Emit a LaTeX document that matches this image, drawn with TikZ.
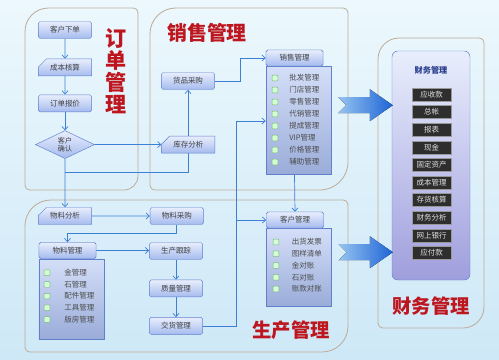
\documentclass[tikz,border=0pt]{standalone}
\usepackage{fontspec}
\newfontfamily\cjk{Noto Sans CJK SC}
\usetikzlibrary{positioning, arrows.meta, shapes.geometric, shapes.misc, calc, backgrounds}
\definecolor{flowblue}{RGB}{60,128,214}
\definecolor{boxline}{RGB}{96,128,206}
\definecolor{boxtop}{RGB}{232,238,252}
\definecolor{boxbot}{RGB}{165,186,238}
\definecolor{titlered}{RGB}{190,22,30}
\definecolor{panelline}{RGB}{190,172,152}
\definecolor{bgtop}{RGB}{236,248,253}
\definecolor{bgbot}{RGB}{206,232,247}
\definecolor{arrowlight}{RGB}{150,196,240}
\definecolor{arrowdark}{RGB}{30,100,214}
\definecolor{finnavy}{RGB}{40,60,140}

\begin{document}
\begin{tikzpicture}[
  x=0.03cm, y=-0.03cm,
  >={Straight Barb[length=1mm, width=1.8mm]},
  font=\cjk\fontsize{6.4}{7.5}\selectfont,
  box/.style={draw=boxline, rounded corners=1.5pt, top color=boxtop, bottom color=boxbot,
    minimum width=1.6cm, minimum height=0.51cm, inner sep=1pt, text=black!75},
  cutbox/.style={box, chamfered rectangle, chamfered rectangle corners=north west,
    chamfered rectangle xsep=0.2cm, rounded corners=0pt},
  dia/.style={diamond, draw=boxline, top color=boxtop, bottom color=boxbot, aspect=2.1,
    minimum width=1.77cm, minimum height=0.84cm, inner sep=0pt, align=center,
    font=\cjk\fontsize{6}{6.6}\selectfont, text=black!75},
  hdr/.style={box, minimum width=1.71cm, minimum height=0.48cm},
  lbody/.style={chamfered rectangle, chamfered rectangle corners=north east,
    chamfered rectangle xsep=0.16cm, draw=boxline, top color=boxtop!70!boxbot,
    bottom color=boxbot!90!black!95, minimum width=1.95cm, inner sep=0pt},
  ico/.style={draw=green!40!black!50, fill=green!18, minimum size=0.17cm, inner sep=0pt,
    rounded corners=0.5pt},
  itm/.style={inner sep=0pt, text=black!70},
  finbox/.style={draw=boxline, rounded corners=5pt, top color=boxtop, bottom color=boxbot!85!violet,
    minimum width=2.34cm, minimum height=6.87cm},
  fitem/.style={fill=black!82, draw=black!40, minimum width=1.17cm, minimum height=0.39cm,
    inner sep=0pt, text=white!88!black},
  ttl/.style={text=titlered, inner sep=0pt, font=\cjk\bfseries\fontsize{17}{18}\selectfont},
  panel/.style={draw=panelline, line width=0.7pt},
  flow/.style={draw=flowblue, line width=0.6pt, ->}
]
  \useasboundingbox (0,0) rectangle (499,359);

  % Order management
  \node[box] (kx) at (65,30) {客户下单};
  \node[cutbox, below=0.6cm of kx] (cb) {成本核算};
  \node[box, below=0.55cm of cb] (bj) {订单报价};
  \node[dia, below=0.55cm of bj] (qr) {客户\\确认};
  \node[ttl, align=center, font=\cjk\bfseries\fontsize{18}{18.7}\selectfont] (t1) at (116,71) {订\\单\\管\\理};

  % Sales management
  \node[ttl] (t2) at (207,33) {销售管理};
  \node[box] (hp) at (188,81) {货品采购};
  \node[cutbox, right=2.0cm of qr] (kc) {库存分析};
  \node[hdr] (sh) at (294.5,58) {销售管理};
  \node[lbody, minimum height=3.24cm, below=0pt of sh.south west, anchor=north west] (sb) {};
  \node[hdr] at (sh) {销售管理};
  \foreach \t [count=\i] in {批发管理,门店管理,零售管理,代销管理,提成管理,VIP管理,价格管理,辅助管理} {
    \node[ico] (si\i) at (275,{66+12*\i}) {};
    \node[itm, right=0.33cm of si\i] (st\i) {\t};
  }

  % Production management
  \node[cutbox] (wf) at (65,216) {物料分析};
  \node[box, right=1.74cm of wf] (wc) {物料采购};
  \node[hdr] (wg) at (67.5,250.5) {物料管理};
  \node[lbody, minimum height=2.4cm, below=0pt of wg.south west, anchor=north west] (wb) {};
  \node[hdr] at (wg) {物料管理};
  \foreach \t [count=\i] in {金管理,石管理,配件管理,工具管理,版房管理} {
    \node[ico] (wi\i) at (47,{261+11.7*\i}) {};
    \node[itm, right=0.42cm of wi\i] (wt\i) {\t};
  }
  \node[box] (sg) at (176,251) {生产跟踪};
  \node[box, below=0.6cm of sg] (zl) {质量管理};
  \node[box, below=0.6cm of zl] (jh) {交货管理};
  \node[hdr] (kh) at (295,220) {客户管理};
  \node[lbody, minimum height=2.33cm, below=0pt of kh.south west, anchor=north west] (kb) {};
  \node[hdr] at (kh) {客户管理};
  \foreach \t [count=\i] in {出货发票,图样清单,金对账,石对账,账款对账} {
    \node[ico] (ki\i) at (276,{230.25+11.75*\i}) {};
    \node[itm, right=0.38cm of ki\i] (kt\i) {\t};
  }
  \node[ttl, font=\cjk\bfseries\fontsize{16.5}{18}\selectfont] (t3) at (291,330) {生产管理};

  % Finance management
  \node[finbox] (fin) at (431,165.5) {};
  \node[font=\cjk\bfseries\fontsize{7}{8}\selectfont, text=finnavy] (fint) at (431,70) {财务管理};
  \foreach \t [count=\i] in {应收款,总帐,报表,现金,固定资产,成本管理,存货核算,财务分析,网上银行,应付款}
    \node[fitem] (f\i) at (431.5,{76.9+17.6*\i}) {\t};
  \node[ttl, font=\cjk\bfseries\fontsize{16.5}{18}\selectfont] (t4) at (431,306) {财务管理};

  % big arrows into finance
  \coordinate (a1) at ($(sb.east |- sh.south)+(7,39)$);
  \coordinate (a2) at ($(kb.east |- kh.south)+(7,24)$);
  \foreach \s in {a1,a2}
    \fill[left color=arrowlight, right color=arrowdark]
      ($(\s)+(0,-8)$) -- ($(fin.west |- \s)+(-22,-8)$) -- ($(fin.west |- \s)+(-22,-16)$)
      -- ($(fin.west |- \s)+(1,0)$) -- ($(fin.west |- \s)+(-22,16)$) -- ($(fin.west |- \s)+(-22,8)$)
      -- ($(\s)+(0,8)$) -- ($(\s)+(8,0)$) -- cycle;

  \begin{scope}[on background layer]
    \fill[top color=bgtop, bottom color=bgbot] (0,0) rectangle (499,359);
    % panels
    \draw[panel] (25,100) [rounded corners=20] -- (25,8) [rounded corners=4] -- (138,8)
      [rounded corners=12] -- (138,190) [rounded corners=4] -- (25,190) -- cycle;
    \draw[panel] (150,100) [rounded corners=22] -- (150,8) [rounded corners=4] -- (348,8)
      [rounded corners=24] -- (348,190) [rounded corners=4] -- (150,190) -- cycle;
    \draw[panel] (25,280) [rounded corners=22] -- (25,200) [rounded corners=4] -- (348,200)
      [rounded corners=22] -- (348,352) [rounded corners=4] -- (25,352) -- cycle;
    \draw[panel] (378,180) [rounded corners=18] -- (378,38) [rounded corners=4] -- (484,38)
      [rounded corners=18] -- (484,328) [rounded corners=4] -- (378,328) -- cycle;

    % connectors
    \draw[flow] (kx) -- (cb);
    \draw[flow] (cb) -- (bj);
    \draw[flow] (bj) -- (qr);
    \draw[flow] (qr) -- (kc);
    \draw[flow] (qr) -- (wf);
    \coordinate (j1) at (65,172);
    \draw[flow] (j1) -| (hp);
    \draw[flow] (hp.east) -- ++(25,0) |- (sh.west);
    \draw[flow] (sh.south |- sb.south) -- (kh.north);
    \coordinate (j2) at (236,121);
    \draw[flow] (jh.east) -| (j2) -- (j2 -| sb.west);
    \draw[flow] (j2 |- kh.west) -- (kh.west);
    \draw[flow] (wf) -- (wc);
    \draw[flow] (wc.south) -- ++(0,9) -| (wg.north);
    \draw[flow] (wg.east) -- (wg.east -| sg.west);
    \draw[flow] (sg) -- (zl);
    \draw[flow] (zl) -- (jh);
  \end{scope}
\end{tikzpicture}
\end{document}
